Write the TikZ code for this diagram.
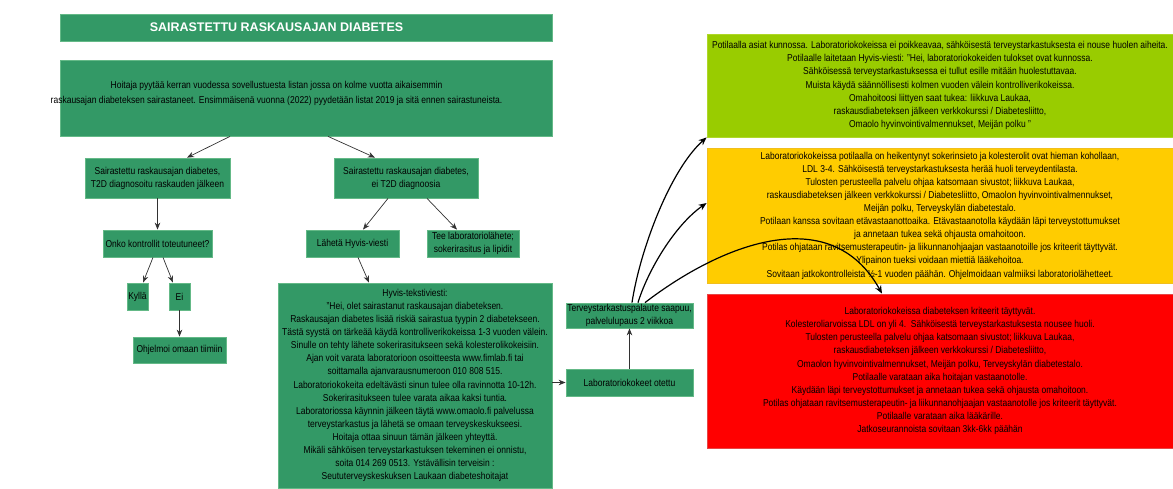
\documentclass[tikz,border=0pt]{standalone}
\usepackage{fontspec}
\setmainfont{Liberation Sans}[FakeStretch=0.85]
\newfontfamily\titlefont{Liberation Sans}
\usetikzlibrary{arrows.meta,calc}
\definecolor{boxgreen}{RGB}{51,153,102}
\definecolor{edgegreen}{RGB}{100,185,135}
\definecolor{limefill}{RGB}{153,204,0}
\definecolor{limeedge}{RGB}{175,215,40}
\definecolor{yellowfill}{RGB}{255,204,0}
\definecolor{yellowedge}{RGB}{240,190,30}
\definecolor{redfill}{RGB}{255,0,0}
\definecolor{rededge}{RGB}{230,70,70}
\definecolor{linegray}{RGB}{50,50,50}
\begin{document}
\begin{tikzpicture}[x=1pt,y=-1pt,
  gbox/.style={draw=edgegreen,line width=0.8pt,fill=boxgreen,align=center,inner sep=1pt,
    font=\fontsize{10}{13.1}\selectfont},
  sbox/.style={draw=#1edge,line width=0.8pt,fill=#1fill,align=center,inner sep=1pt,
    font=\fontsize{10}{13.1}\selectfont},
  plaintext/.style={align=center,inner sep=0pt,font=\fontsize{10}{15}\selectfont},
  conn/.style={draw=linegray,line width=0.7pt,-{Stealth[length=7pt,width=5.5pt]}},
  curv/.style={draw=black,line width=1.2pt,-{Stealth[length=8pt,width=6.5pt]}}]
\useasboundingbox (0,0) rectangle (1173,488);

\node[gbox,minimum width=492pt,minimum height=27pt] (title) at (306,27.5) {};
\node[plaintext,text=white,font=\titlefont\fontsize{12.5}{15}\selectfont\bfseries] (titletext) at (276.5,27.5)
 {SAIRASTETTU RASKAUSAJAN DIABETES};

\node[gbox,minimum width=492pt,minimum height=76pt] (top) at (306,98) {};
\node[plaintext] (toptext) at (276.5,93.5)
 {Hoitaja pyytää kerran vuodessa sovellustuesta listan jossa on kolme vuotta aikaisemmin\\
  raskausajan diabeteksen sairastaneet. Ensimmäisenä vuonna (2022) pyydetään listat 2019 ja sitä ennen sairastuneista.};

\node[gbox,minimum width=145pt,minimum height=40pt] (A) at (157.5,178)
 {Sairastettu raskausajan diabetes,\\T2D diagnosoitu raskauden jälkeen};
\node[gbox,minimum width=144pt,minimum height=40pt] (B) at (406,178)
 {Sairastettu raskausajan diabetes,\\ei T2D diagnoosia};

\node[gbox,minimum width=109pt,minimum height=27pt] (C) at (157.5,243.5) {Onko kontrollit toteutuneet?};
\node[gbox,minimum width=93pt,minimum height=27pt] (D) at (352.5,243.5) {Lähetä Hyvis-viesti};
\node[gbox,minimum width=92pt,minimum height=27pt,inner sep=0pt] (E) at (473,243.5) {Tee laboratoriolähete;\\sokerirasitus ja lipidit};

\node[gbox,minimum width=21pt,minimum height=27pt,inner sep=0pt] (K) at (137.5,296.5) {Kyllä};
\node[gbox,minimum width=21pt,minimum height=27pt,inner sep=0pt] (Ei) at (179.5,296.5) {Ei};
\node[gbox,minimum width=93pt,minimum height=26pt] (O) at (179.5,350) {Ohjelmoi omaan tiimiin};

\node[gbox,minimum width=274pt,minimum height=205pt] (H) at (415,385.5)
 {Hyvis-tekstiviesti:\\
  "Hei, olet sairastanut raskausajan diabeteksen.\\
  Raskausajan diabetes lisää riskiä sairastua tyypin 2 diabetekseen.\\
  Tästä syystä on tärkeää käydä kontrolliverikokeissa 1-3 vuoden välein.\\
  Sinulle on tehty lähete sokerirasitukseen sekä kolesterolikokeisiin.\\
  Ajan voit varata laboratorioon osoitteesta www.fimlab.fi tai\\
  soittamalla ajanvarausnumeroon 010 808 515.\\
  Laboratoriokokeita edeltävästi sinun tulee olla ravinnotta 10-12h.\\
  Sokerirasitukseen tulee varata aikaa kaksi tuntia.\\
  Laboratoriossa käynnin jälkeen täytä www.omaolo.fi palvelussa\\
  terveystarkastus ja lähetä se omaan terveyskeskukseesi.\\
  Hoitaja ottaa sinuun tämän jälkeen yhteyttä.\\
  Mikäli sähköisen terveystarkastuksen tekeminen ei onnistu,\\
  soita 014 269 0513. Ystävällisin terveisin :\\
  Seututerveyskeskuksen Laukaan diabeteshoitajat};

\node[gbox,minimum width=127pt,minimum height=27pt] (L) at (629.5,382.5) {Laboratoriokokeet otettu};
\node[gbox,minimum width=127pt,minimum height=25pt,inner sep=0pt] (T) at (629.5,315.5)
 {Terveystarkastuspalaute saapuu,\\palvelulupaus 2 viikkoa};

\node[sbox=lime,minimum width=466pt,minimum height=103pt] (G) at (940,85.5)
 {Potilaalla asiat kunnossa. Laboratoriokokeissa ei poikkeavaa, sähköisestä terveystarkastuksesta ei nouse huolen aiheita.\\
  Potilaalle laitetaan Hyvis-viesti: "Hei, laboratoriokokeiden tulokset ovat kunnossa.\\
  Sähköisessä terveystarkastuksessa ei tullut esille mitään huolestuttavaa.\\
  Muista käydä säännöllisesti kolmen vuoden välein kontrolliverikokeissa.\\
  Omahoitoosi liittyen saat tukea: liikkuva Laukaa,\\
  raskausdiabeteksen jälkeen verkkokurssi / Diabetesliitto,\\
  Omaolo hyvinvointivalmennukset, Meijän polku "};

\node[sbox=yellow,minimum width=466pt,minimum height=135pt] (Y) at (940,215.5)
 {Laboratoriokokeissa potilaalla on heikentynyt sokerinsieto ja kolesterolit ovat hieman kohollaan,\\
  LDL 3-4. Sähköisestä terveystarkastuksesta herää huoli terveydentilasta.\\
  Tulosten perusteella palvelu ohjaa katsomaan sivustot; liikkuva Laukaa,\\
  raskausdiabeteksen jälkeen verkkokurssi / Diabetesliitto, Omaolon hyvinvointivalmennukset,\\
  Meijän polku, Terveyskylän diabetestalo.\\
  Potilaan kanssa sovitaan etävastaanottoaika. Etävastaanotolla käydään läpi terveystottumukset\\
  ja annetaan tukea sekä ohjausta omahoitoon.\\
  Potilas ohjataan ravitsemusterapeutin- ja liikunnanohjaajan vastaanotoille jos kriteerit täyttyvät.\\
  Ylipainon tueksi voidaan miettiä lääkehoitoa.\\
  Sovitaan jatkokontrolleista ½-1 vuoden päähän. Ohjelmoidaan valmiiksi laboratoriolähetteet.};

\node[sbox=red,minimum width=466pt,minimum height=154pt] (R) at (940,371)
 {Laboratoriokokeissa diabeteksen kriteerit täyttyvät.\\
  Kolesteroliarvoissa LDL on yli 4.\ \ Sähköisestä terveystarkastuksesta nousee huoli.\\
  Tulosten perusteella palvelu ohjaa katsomaan sivustot; liikkuva Laukaa,\\
  raskausdiabeteksen jälkeen verkkokurssi / Diabetesliitto,\\
  Omaolon hyvinvointivalmennukset, Meijän polku, Terveyskylän diabetestalo.\\
  Potilaalle varataan aika hoitajan vastaanotolle.\\
  Käydään läpi terveystottumukset ja annetaan tukea sekä ohjausta omahoitoon.\\
  Potilas ohjataan ravitsemusterapeutin- ja liikunnanohjaajan vastaanotolle jos kriteerit täyttyvät.\\
  Potilaalle varataan aika lääkärille.\\
  Jatkoseurannoista sovitaan 3kk-6kk päähän};

% connectors
\draw[conn] ([xshift=-76pt]top.south) -- ([xshift=29.5pt]A.north);
\draw[conn] ([xshift=22pt]top.south) -- ([xshift=-31pt]B.north);
\draw[conn] (A.south) -- (C.north);
\draw[conn] ([xshift=-4.5pt]C.south) -- ([xshift=5.5pt]K.north);
\draw[conn] ([xshift=5.5pt]C.south) -- ([xshift=-6.5pt]Ei.north);
\draw[conn] (Ei.south) -- (O.north -| Ei.south);
\draw[conn] ([xshift=-18pt]B.south) -- ([xshift=10.5pt]D.north);
\draw[conn] ([xshift=21pt]B.south) -- ([xshift=-16pt]E.north);
\draw[conn] ([xshift=5.5pt]D.south) -- ([xshift=-46pt]H.north);
\draw[conn] (H.east |- L.west) -- (L.west);
\draw[conn] (L.north) -- (T.south);

\draw[curv] ([xshift=2.5pt]T.north) .. controls (640,250) and (670,170) .. (G.south west);
\draw[curv] ([xshift=8.5pt]T.north) .. controls (648,270) and (675,225) .. ([yshift=12.5pt]Y.west);
\draw[curv] ([xshift=15.5pt]T.north) .. controls (720,245) and (830,200) .. ([xshift=-58pt]R.north);
\end{tikzpicture}
\end{document}
